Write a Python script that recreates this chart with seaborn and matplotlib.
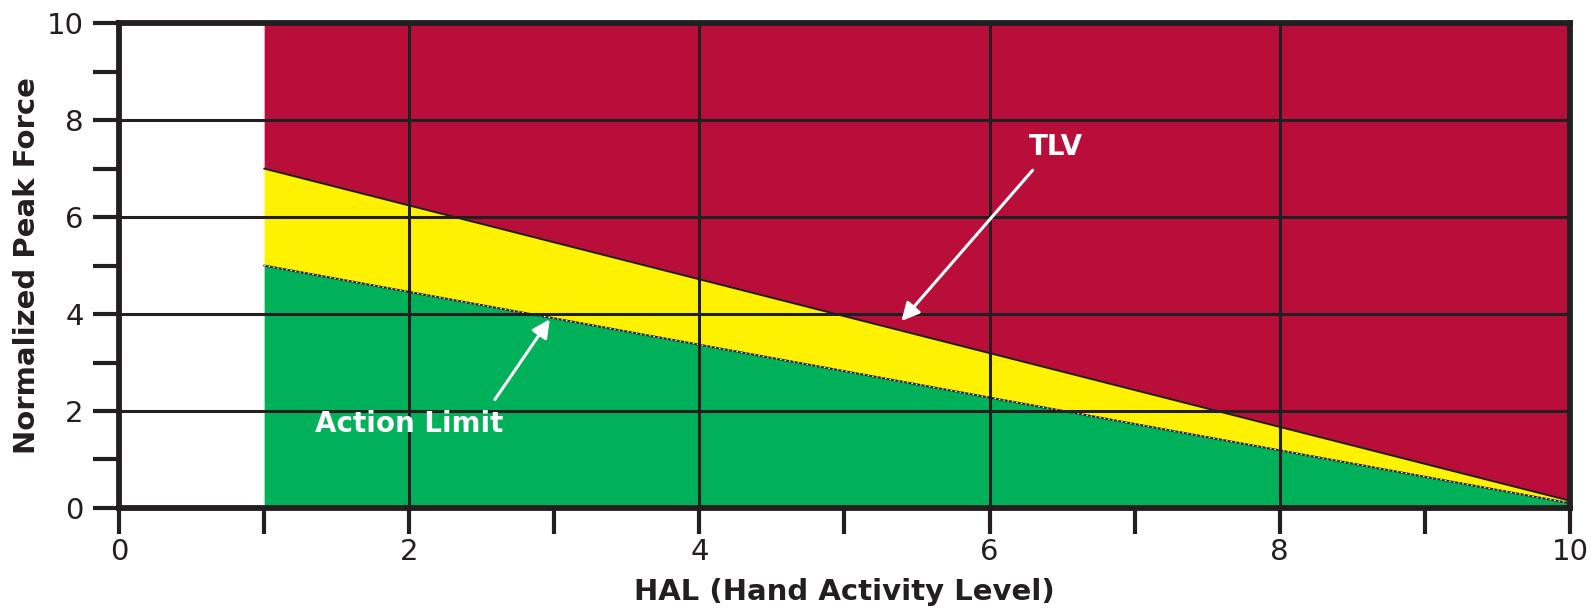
import matplotlib
matplotlib.use("Agg")
import matplotlib.pyplot as plt
import seaborn as sns
import pandas as pd
from matplotlib.ticker import MultipleLocator

# ---- data ----
hal = [1.0, 10.0]
tlv = [7.0, 0.15]
action_limit = [5.0, 0.1]
x_ticks = [0, 2, 4, 6, 8, 10]
y_ticks = [0, 2, 4, 6, 8, 10]
x_label = "HAL (Hand Activity Level)"
y_label = "Normalized Peak Force"
tlv_label = "TLV"
al_label = "Action Limit"

RED = "#B90E3A"
YELLOW = "#FFF200"
GREEN = "#00B159"
DARK = "#231F20"

sns.set_theme(style="white")
plt.rcParams["font.family"] = ["DejaVu Sans"]

fig = plt.figure(figsize=(15.96, 6.08), dpi=100)
ax = fig.add_axes([0.0746, 0.1645, 0.909, 0.7975])

df = pd.DataFrame({"HAL": hal, "TLV": tlv, "AL": action_limit})

ax.fill_between(df["HAL"], df["TLV"], 10, color=RED, lw=0, zorder=1)
ax.fill_between(df["HAL"], df["AL"], df["TLV"], color=YELLOW, lw=0, zorder=1)
ax.fill_between(df["HAL"], 0, df["AL"], color=GREEN, lw=0, zorder=1)

sns.lineplot(data=df, x="HAL", y="TLV", ax=ax, color=DARK, lw=1.4, zorder=2)
sns.lineplot(data=df, x="HAL", y="AL", ax=ax, color=DARK, lw=1.4, zorder=2)
sns.lineplot(data=df, x="HAL", y="AL", ax=ax, color="white", lw=0.8,
             linestyle=(0, (1.5, 2.5)), zorder=2)

ax.set_xlim(0, 10)
ax.set_ylim(0, 10)
ax.set_xticks(x_ticks)
ax.set_yticks(y_ticks)
ax.xaxis.set_minor_locator(MultipleLocator(1))
ax.yaxis.set_minor_locator(MultipleLocator(1))

ax.set_axisbelow(False)
ax.grid(True, which="major", color=DARK, lw=2.2)

for s in ax.spines.values():
    s.set_visible(True)
    s.set_color(DARK)
    s.set_linewidth(4.2)

ax.tick_params(axis="both", which="both", direction="out", length=18.5,
               width=3, color=DARK, labelcolor=DARK, labelsize=21)
ax.tick_params(axis="x", which="both", bottom=True, pad=3)
ax.tick_params(axis="y", which="both", left=True, pad=7)

ax.set_xlabel(x_label, fontsize=21, fontweight="bold", color=DARK, labelpad=9)
ax.set_ylabel(y_label, fontsize=21, fontweight="bold", color=DARK, labelpad=4)

ax.annotate("", xy=(5.38, 3.81), xytext=(6.31, 7.01),
            arrowprops=dict(arrowstyle="-|>,head_length=0.9,head_width=0.45",
                            color="white", lw=2.2), zorder=5)
ax.text(6.46, 7.44, tlv_label, color="white", fontsize=20, fontweight="bold",
        ha="center", va="center", zorder=5)

ax.annotate("", xy=(2.98, 3.94), xytext=(2.58, 2.19),
            arrowprops=dict(arrowstyle="-|>,head_length=0.9,head_width=0.45",
                            color="white", lw=2.2), zorder=5)
ax.text(2.0, 1.73, al_label, color="white", fontsize=20, fontweight="bold",
        ha="center", va="center", zorder=5)

fig.savefig("out.png", dpi=100)
